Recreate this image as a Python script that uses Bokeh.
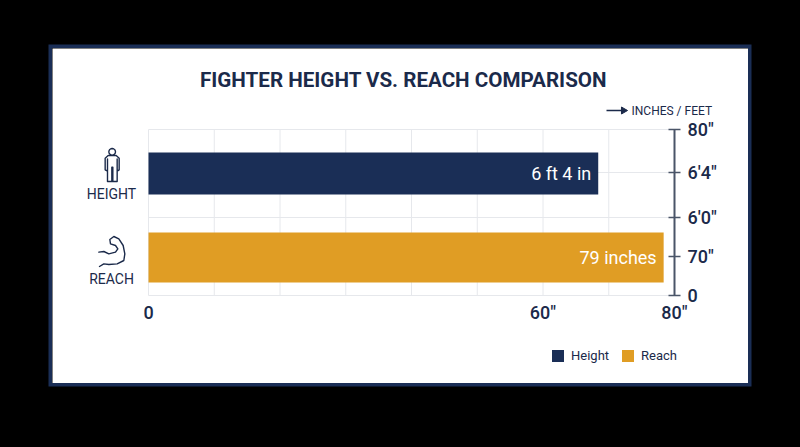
from bokeh.plotting import figure
from bokeh.embed import file_html
from bokeh.resources import INLINE
from bokeh.core.properties import value
from bokeh.models import (Range1d, FixedTicker, LinearAxis, Legend, LegendItem, ColumnDataSource)
import math

# data
categories = ["Height", "Reach"]
bar_values = [68.4, 78.35]
bar_labels = ["6 ft 4 in", "79 inches"]
bottom_ticks = [0, 60, 80]
bottom_labels = ["0", "60″", "80″"]
right_ticks = [0, 39, 78, 123, 166]
right_labels = ["0", "70″", "6′0″", "6′4″", "80″"]
grid_x = [0, 10, 20, 30, 40, 50, 60, 70]
grid_y = [0, 78, 123, 166]

NAVY = "#1a2e56"
GOLD = "#e09d24"
INK = "#1b2a4a"
GRID = "#e6e8ec"
FONT = "Roboto"
MEDIUM = "Roboto Medium"
LEFT, TOP = 52, 48
W, H = 696, 335
X0, Y0, PX = 148, 295, 526 / 80


def dx(x):
    return (x - X0) / PX


def dy(y):
    return Y0 - y


p = figure(width=W, height=H, output_backend="svg", toolbar_location=None,
           x_range=Range1d(dx(LEFT), dx(LEFT + W)), y_range=Range1d(dy(TOP + H), dy(TOP)),
           min_border=0, x_axis_location=None, y_axis_location=None,
           border_fill_color="#ffffff", background_fill_color="#ffffff",
           outline_line_color=None,
           margin=(TOP, 0, 0, LEFT),
           styles={"box-shadow": f"0 0 0 3.5px {NAVY}"})
p.grid.visible = False

# grid
p.segment(x0=grid_x, x1=grid_x, y0=[0] * len(grid_x), y1=[166] * len(grid_x), line_color=GRID, line_width=1)
p.segment(x0=[0] * len(grid_y), x1=[80] * len(grid_y), y0=grid_y, y1=grid_y, line_color=GRID, line_width=1)

# bars
src = ColumnDataSource(dict(cat=categories, val=bar_values, label=bar_labels,
                            y=[122, 38], h=[42, 50], color=[NAVY, GOLD]))
bars = p.hbar(y="y", height="h", left=0, right="val", fill_color="color", line_color=None, source=src)
p.text(x="val", y="y", text="label", source=src, text_color="#ffffff", text_align="right",
       text_baseline="middle", x_offset=-7, text_font=value(FONT), text_font_size="18px")

# axes
bx = LinearAxis(ticker=FixedTicker(ticks=bottom_ticks), fixed_location=0,
                major_label_overrides={t: l for t, l in zip(bottom_ticks, bottom_labels)},
                axis_line_color=None, major_tick_line_color=None, minor_tick_line_color=None,
                major_tick_in=0, major_tick_out=0,
                major_label_text_font=MEDIUM, major_label_text_font_size="18px",
                major_label_text_color=INK, major_label_standoff=6)
p.add_layout(bx, "below")
ry = LinearAxis(ticker=FixedTicker(ticks=right_ticks), fixed_location=80, bounds=(0, 166),
                major_label_overrides={t: l for t, l in zip(right_ticks, right_labels)},
                axis_line_color="#4a5568", axis_line_width=2,
                major_tick_line_color="#4a5568", major_tick_line_width=1.5,
                major_tick_in=6, major_tick_out=6, minor_tick_line_color=None,
                major_label_text_font=MEDIUM, major_label_text_font_size="18px",
                major_label_text_color=INK, major_label_standoff=7)
p.add_layout(ry, "right")


def label(text, x, y, size, align="center", weight="normal", font=MEDIUM):
    p.text(x=[dx(x)], y=[dy(y)], text=[text], text_font=value(font), text_font_size=size,
           text_color=INK, text_font_style=weight, text_align=align, text_baseline="middle")


label("FIGHTER HEIGHT VS. REACH COMPARISON", 403, 79, "20.6px", weight="bold", font=FONT)
label("INCHES / FEET", 631, 110, "12px", align="left", font=FONT)
label("HEIGHT", 111, 193, "14px", font=FONT)
label("REACH", 111, 278, "14px", font=FONT)

# arrow before the unit note
p.line(x=[dx(606), dx(622)], y=[dy(110), dy(110)], line_color=INK, line_width=1.5)
p.scatter(x=[dx(623)], y=[dy(110)], marker="triangle", size=7, angle=-math.pi / 2,
          fill_color=INK, line_color=INK)


# icons
def icon(points, closed=True):
    xs = [dx(60 + a / 3) for a, _ in points]
    ys = [dy(120 + b / 3) for _, b in points]
    if closed:
        xs.append(xs[0])
        ys.append(ys[0])
    p.line(x=xs, y=ys, line_color=INK, line_width=1.4, line_join="round", line_cap="round")


icon([(155 + 10 * math.cos(t / 16 * 2 * math.pi), 94 + 10 * math.sin(t / 16 * 2 * math.pi)) for t in range(16)])
icon([(143, 105), (167, 105), (176, 113), (176, 148), (170, 152), (170, 115), (170, 183), (157, 183), (157, 140),
      (154, 140), (154, 183), (141, 183), (141, 115), (141, 152), (134, 148), (134, 113)])
icon([(115, 395), (130, 393), (145, 400), (165, 395), (172, 385), (165, 375), (150, 370), (148, 357), (160, 348),
      (175, 355), (188, 375), (193, 400), (190, 420), (170, 430), (145, 432), (130, 430), (117, 438)], closed=False)

# legend
legend = Legend(items=[LegendItem(label=categories[0], renderers=[bars], index=0),
                       LegendItem(label=categories[1], renderers=[bars], index=1)],
                orientation="horizontal", location=(498, 20), background_fill_alpha=0, border_line_color=None,
                glyph_width=15, glyph_height=15, label_text_font=FONT, label_text_font_size="13px",
                label_text_color=INK, spacing=11, padding=5, margin=0, label_standoff=6)
p.add_layout(legend, "center")

html = file_html(p, INLINE).replace("<body>", '<body style="background:#000000;margin:0">')
open("out.html", "w").write(html)
